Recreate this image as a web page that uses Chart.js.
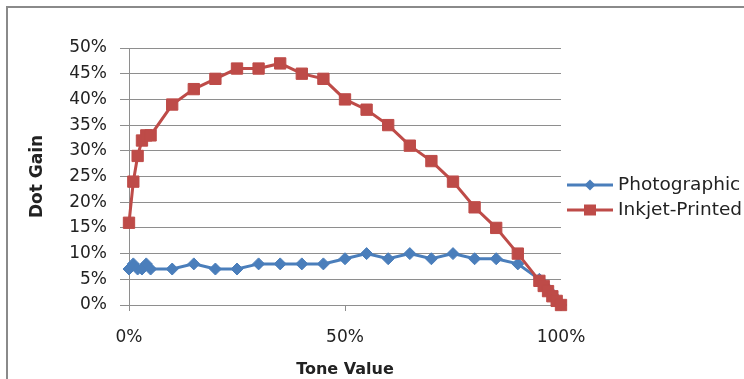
<!DOCTYPE html>
<html>
<head>
<meta charset="utf-8">
<script src="https://cdn.jsdelivr.net/npm/chart.js@4/dist/chart.umd.min.js"></script>
<style>
  html, body { margin: 0; padding: 0; background: #ffffff; overflow: hidden; }
  #wrap { position: relative; width: 744px; height: 379px; overflow: hidden; }
  #frame { position: absolute; left: 6px; top: 6px; width: 800px; height: 420px; border: 2px solid #8a8a8a; box-sizing: border-box; }
  canvas { position: absolute; left: 0; top: 0; }
</style>
</head>
<body>
<div id="wrap">
  <div id="frame"></div>
  <canvas id="c" width="744" height="379"></canvas>
</div>
<script>
// Tone value (%) sample positions
const toneValues = [0, 1, 2, 3, 4, 5, 10, 15, 20, 25, 30, 35, 40, 45, 50, 55, 60, 65, 70, 75, 80, 85, 90, 95, 96, 97, 98, 99, 100];
// Dot gain (%) per series
const photographic = [7, 8, 7, 7, 8, 7, 7, 8, 7, 7, 8, 8, 8, 8, 9, 10, 9, 10, 9, 10, 9, 9, 8, 5, 4, 3, 2, 1, 0];
const inkjetPrinted = [16, 24, 29, 32, 33, 33, 39, 42, 44, 46, 46, 47, 45, 44, 40, 38, 35, 31, 28, 24, 19, 15, 10, 4.7, 3.7, 2.7, 1.7, 0.8, 0];
const seriesNames = ["Photographic", "Inkjet-Printed"];
const xTickValues = [0, 50, 100];
const yTickMax = 50;
const yTickStep = 5;
const xTitle = "Tone Value";
const yTitle = "Dot Gain";

const BLUE = "#4A7EBB";
const RED = "#BE4B48";
const GRID = "#8e8e8e";
const TXT = "#222222";

function toPoints(xs, ys) { return xs.map((x, i) => ({ x: x, y: ys[i] })); }

const legendPlugin = {
  id: "customLegend",
  afterDraw(chart) {
    const ctx = chart.ctx;
    const startY = 185, step = 25;
    chart.data.datasets.forEach((ds, i) => {
      const y = startY + i * step;
      ctx.save();
      ctx.strokeStyle = ds.borderColor;
      ctx.lineWidth = 3;
      ctx.beginPath();
      ctx.moveTo(567, y);
      ctx.lineTo(613, y);
      ctx.stroke();
      ctx.fillStyle = ds.pointBackgroundColor;
      ctx.beginPath();
      if (ds.pointStyle === "rectRot") {
        const r = 5.5;
        ctx.moveTo(590 - r, y); ctx.lineTo(590, y - r); ctx.lineTo(590 + r, y); ctx.lineTo(590, y + r);
        ctx.closePath();
      } else {
        ctx.rect(590 - 6, y - 5.5, 12, 11);
      }
      ctx.fill();
      ctx.fillStyle = TXT;
      ctx.font = "18.5px 'DejaVu Sans'";
      ctx.textBaseline = "middle";
      ctx.textAlign = "left";
      ctx.fillText(ds.label, 618, y);
      ctx.restore();
    });
  }
};

new Chart(document.getElementById("c"), {
  type: "line",
  data: {
    datasets: [
      {
        label: seriesNames[0],
        data: toPoints(toneValues, photographic),
        borderColor: BLUE,
        backgroundColor: BLUE,
        pointBackgroundColor: BLUE,
        pointBorderColor: BLUE,
        pointStyle: "rectRot",
        pointRadius: 6,
        pointBorderWidth: 1,
        borderWidth: 3,
        tension: 0,
        clip: false,
        order: 1
      },
      {
        label: seriesNames[1],
        data: toPoints(toneValues, inkjetPrinted),
        borderColor: RED,
        backgroundColor: RED,
        pointBackgroundColor: RED,
        pointBorderColor: RED,
        pointStyle: "rect",
        pointRadius: 8,
        pointBorderWidth: 1,
        borderWidth: 3,
        tension: 0,
        clip: false,
        order: 0
      }
    ]
  },
  options: {
    responsive: false,
    devicePixelRatio: 1,
    animation: false,
    layout: { padding: { left: 27, right: 183, top: 48, bottom: 0 } },
    plugins: { legend: { display: false }, tooltip: { enabled: false } },
    scales: {
      x: {
        type: "linear",
        min: 0,
        max: 100,
        afterBuildTicks(axis) { axis.ticks = xTickValues.map(v => ({ value: v })); },
        afterFit(axis) { axis.height = 74; },
        grid: { display: true, drawOnChartArea: false, drawTicks: true, tickLength: 6, color: GRID },
        border: { display: true, color: GRID, width: 1 },
        ticks: {
          font: { family: "DejaVu Sans", size: 17 },
          color: TXT,
          padding: 16,
          maxRotation: 0,
          callback: v => v + "%"
        },
        title: {
          display: true,
          text: xTitle,
          font: { family: "DejaVu Sans", size: 16, weight: "bold" },
          color: TXT,
          padding: 0
        }
      },
      y: {
        type: "linear",
        min: 0,
        max: yTickMax,
        afterFit(axis) { axis.width = 102; },
        grid: { display: true, drawTicks: true, tickLength: 9, color: GRID },
        border: { display: true, color: GRID, width: 1 },
        ticks: {
          stepSize: yTickStep,
          font: { family: "DejaVu Sans", size: 17 },
          color: TXT,
          padding: 13,
          callback: v => v + "%"
        },
        title: {
          display: true,
          text: yTitle,
          font: { family: "DejaVu Sans", size: 17, weight: "bold" },
          color: TXT,
          padding: 0
        }
      }
    }
  },
  plugins: [legendPlugin]
});
</script>
</body>
</html>
